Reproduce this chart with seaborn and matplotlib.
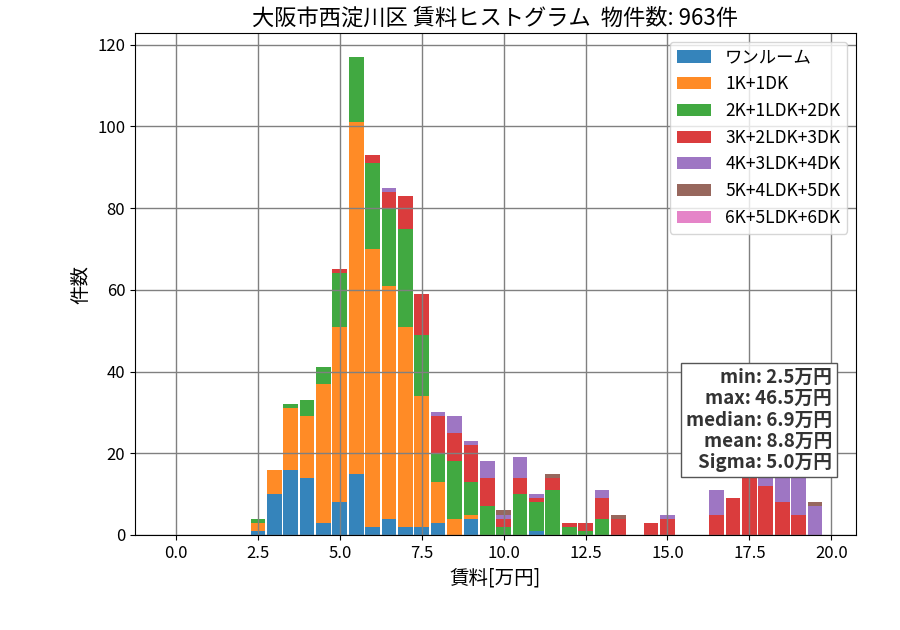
import numpy as np
import pandas as pd
import matplotlib
matplotlib.use("Agg")
import matplotlib.pyplot as plt
from matplotlib.patches import Patch
import seaborn as sns

# rent bins (bin centres, 万円) and counts per layout type
rent = [2.5, 3.0, 3.5, 4.0, 4.5, 5.0, 5.5, 6.0, 6.5, 7.0, 7.5, 8.0, 8.5, 9.0, 9.5,
        10.0, 10.5, 11.0, 11.5, 12.0, 12.5, 13.0, 13.5, 14.0, 14.5, 15.0, 15.5,
        16.0, 16.5, 17.0, 17.5, 18.0, 18.5, 19.0, 19.5]

one_room = [1, 10, 16, 14, 3, 8, 15, 2, 4, 2, 2, 3, 0, 4, 0,
            0, 0, 1, 0, 0, 0, 0, 0, 0, 0, 0, 0, 0, 0, 0, 0, 0, 0, 0, 0]
k1 = [2, 6, 15, 15, 34, 43, 86, 68, 57, 49, 32, 10, 4, 1, 0,
      0, 0, 0, 0, 0, 0, 0, 0, 0, 0, 0, 0, 0, 0, 0, 0, 0, 0, 0, 0]
k2 = [1, 0, 1, 4, 4, 13, 16, 21, 19, 24, 15, 7, 14, 8, 7,
      2, 10, 7, 11, 2, 1, 4, 0, 0, 0, 0, 0, 0, 0, 0, 0, 0, 0, 0, 0]
k3 = [0, 0, 0, 0, 0, 1, 0, 2, 4, 8, 10, 9, 7, 9, 7,
      2, 4, 1, 3, 1, 2, 5, 4, 0, 3, 4, 0, 0, 5, 9, 16, 12, 8, 5, 0]
k4 = [0, 0, 0, 0, 0, 0, 0, 0, 1, 0, 0, 1, 4, 1, 4,
      1, 5, 1, 0, 0, 0, 2, 0, 0, 0, 1, 0, 0, 6, 0, 0, 3, 7, 9, 7]
k5 = [0, 0, 0, 0, 0, 0, 0, 0, 0, 0, 0, 0, 0, 0, 0,
      1, 0, 0, 1, 0, 0, 0, 1, 0, 0, 0, 0, 0, 0, 0, 0, 0, 0, 0, 1]
k6 = [0] * len(rent)

types = ["ワンルーム", "1K+1DK", "2K+1LDK+2DK", "3K+2LDK+3DK",
         "4K+3LDK+4DK", "5K+4LDK+5DK", "6K+5LDK+6DK"]
counts = [one_room, k1, k2, k3, k4, k5, k6]

stats_text = "min: 2.5万円\nmax: 46.5万円\nmedian: 6.9万円\nmean: 8.8万円\nSigma: 5.0万円"

rows = []
for t, c in zip(types, counts):
    for r, n in zip(rent, c):
        rows.append({"rent": r, "type": t, "n": n})
df = pd.DataFrame(rows)

colors = dict(zip(types, sns.color_palette("tab10", len(types))))

plt.rcParams["font.family"] = ["Noto Sans CJK JP", "DejaVu Sans"]
plt.rcParams["font.size"] = 12

fig, ax = plt.subplots(figsize=(9, 6.3), dpi=100)
fig.subplots_adjust(left=0.15, right=0.951, top=0.9476, bottom=0.1508)

# seaborn stacks the last hue level at the bottom, so reverse the order
sns.histplot(data=df, x="rent", hue="type", weights="n", hue_order=types[::-1],
             multiple="stack", binwidth=0.5, binrange=(-0.25, 19.75), shrink=0.9,
             palette=colors, alpha=0.9, linewidth=0, legend=False, ax=ax)

ax.set_xlim(-1.25, 20.75)
ax.set_ylim(0, 122.85)
ax.set_yticks(range(0, 121, 20))
ax.grid(True, color="gray", linewidth=1)

ax.set_title("大阪市西淀川区 賃料ヒストグラム  物件数: 963件", fontsize=16)
ax.set_xlabel("賃料[万円]", fontsize=14)
ax.set_ylabel("件数", fontsize=14)

handles = [Patch(facecolor=colors[t], alpha=0.9, label=t) for t in types]
ax.legend(handles=handles, loc="upper right", fontsize=12.5)

ax.text(0.967, 0.333, stats_text, transform=ax.transAxes, ha="right", va="top",
        fontsize=13.5, fontweight="bold", color="#333333", linespacing=1.16,
        bbox=dict(facecolor="white", edgecolor="#555555", boxstyle="square,pad=0.25"))

fig.savefig("out.png", dpi=100)
